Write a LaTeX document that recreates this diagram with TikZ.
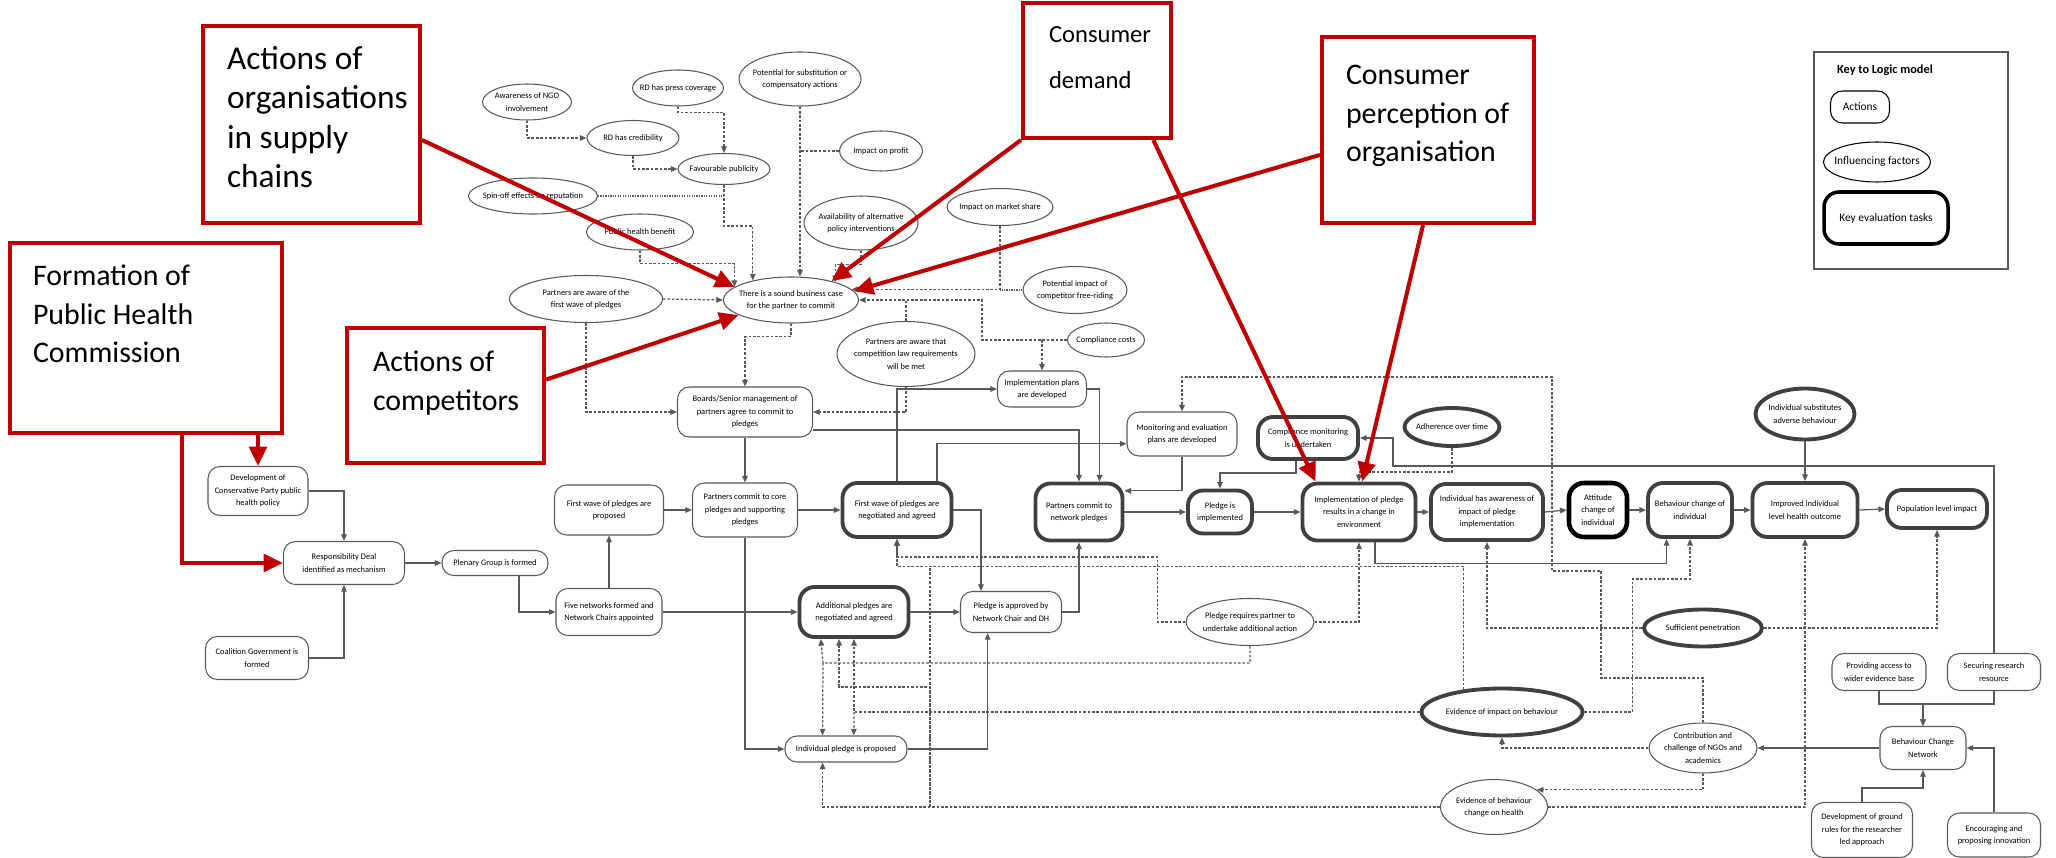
\documentclass[tikz,border=0pt]{standalone}
\usepackage{fontspec}
\setmainfont{Carlito}
\usetikzlibrary{arrows.meta, shapes.geometric}
\usepackage{xcolor}
\definecolor{edgegrey}{HTML}{595959}
\definecolor{taskgrey}{HTML}{404040}
\definecolor{callred}{HTML}{C00000}
\newcommand{\nodefont}{\fontsize{4.8}{7}\selectfont}
\newcommand{\keyfont}{\fontsize{6.5}{8}\selectfont}
\newcommand{\calltext}[3]{\parbox[c][#2][t]{#1}{\raggedright #3}}

\begin{document}
\begin{tikzpicture}[x=0.02cm, y=-0.02cm,
  wh/.style 2 args={minimum width=#1*0.02cm, minimum height=#2*0.02cm},
  action/.style={draw=edgegrey, line width=0.6pt, rounded corners=0.24cm, fill=white,
    align=center, inner sep=1pt, font=\nodefont},
  factor/.style={ellipse, draw=edgegrey, line width=0.6pt, fill=white, align=center,
    inner xsep=-0.3cm, inner ysep=-0.1cm, font=\nodefont},
  task/.style={action, draw=taskgrey, line width=2.2pt, rounded corners=0.3cm},
  taskfactor/.style={factor, draw=taskgrey, line width=2.2pt},
  link/.style={-{Triangle[length=3.8pt, width=3.2pt]}, edgegrey, line width=0.7pt},
  infl/.style={link, dash pattern=on 1.5pt off 1pt},
  faint/.style={infl, dash pattern=on 0.7pt off 0.7pt, -},
  callout/.style={draw=callred, line width=2.3pt, fill=white, inner sep=0pt,
    font=\fontsize{17}{22}\selectfont},
  callarrow/.style={-{Triangle[length=11pt, width=10pt]}, callred, line width=2.3pt}
]
  \useasboundingbox (0,0) rectangle (2056,858);

  \node[factor, wh={89}{36}] (ngo) at (527,102) {Awareness of NGO\\involvement};
  \node[factor, wh={91}{36}] (press) at (678,88) {RD has press coverage};
  \node[factor, wh={122}{54}] (subst) at (800,79) {Potential for substitution or\\compensatory actions};
  \node[factor, wh={92}{35}] (rdc) at (633,138) {RD has credibility};
  \node[factor, wh={83}{40}] (profit) at (881,151) {Impact on profit};
  \node[factor, wh={92}{31}] (pub) at (724,169) {Favourable publicity};
  \node[factor, wh={129}{36}] (spin) at (533,196) {Spin-off effects on reputation};
  \node[factor, wh={114}{54}] (avail) at (861,223) {Availability of alternative\\policy interventions};
  \node[factor, wh={107}{36}] (phb) at (640,232) {Public health benefit};
  \node[factor, wh={153}{47}] (aware) at (586,299) {Partners are aware of the\\first wave of pledges};
  \node[factor, wh={135}{46}] (bc) at (791,300) {There is a sound business case\\for the partner to commit};
  \node[factor, wh={106}{37}] (share) at (1000,207) {Impact on market share};
  \node[factor, wh={104}{47}] (ride) at (1075,290) {Potential impact of\\competitor free-riding};
  \node[factor, wh={77}{34}] (comp) at (1106,340) {Compliance costs};
  \node[factor, wh={138}{65}] (law) at (906,354) {Partners are aware that\\competition law requirements\\will be met};
  \node[factor, wh={128}{47}] (pr) at (1250,622) {Pledge requires partner to\\undertake additional action};
  \node[factor, wh={107}{55}] (ebh) at (1494,807) {Evidence of behaviour\\change on health};
  \node[factor, wh={108}{50}] (nga) at (1703,748) {Contribution and\\challenge of NGOs and\\academics};

  \node[taskfactor, wh={95}{38}] (adh) at (1452,427) {Adherence over time};
  \node[taskfactor, wh={99}{51}] (subs) at (1805,414) {Individual substitutes\\adverse behaviour};
  \node[taskfactor, wh={118}{37}] (suf) at (1703,628) {Sufficient penetration};
  \node[taskfactor, wh={161}{47}] (eib) at (1502,712) {Evidence of impact on behaviour};

  \node[action, wh={89}{36}] (impl) at (1042,389) {Implementation plans\\are developed};
  \node[action, wh={135}{50}] (boards) at (745,412) {Boards/Senior management of\\partners agree to commit to\\pledges};
  \node[action, wh={100}{49}] (dev) at (258,491) {Development of\\Conservative Party public\\health policy};
  \node[action, wh={121}{43}] (rd) at (344,563) {Responsibility Deal\\identified as mechanism};
  \node[action, wh={103}{43}] (coal) at (257,658) {Coalition Government is\\formed};
  \node[action, wh={106}{25}] (plen) at (495,563) {Plenary Group is formed};
  \node[action, wh={109}{50}] (fwp) at (609,510) {First wave of pledges are\\proposed};
  \node[action, wh={106}{47}] (five) at (609,612) {Five networks formed and\\Network Chairs appointed};
  \node[action, wh={105}{54}] (core) at (745,510) {Partners commit to core\\pledges and supporting\\pledges};
  \node[action, wh={101}{41}] (appr) at (1011,612) {Pledge is approved by\\Network Chair and DH};
  \node[action, wh={122}{26}] (ind) at (846,749) {Individual pledge is proposed};
  \node[action, wh={110}{44}] (mon) at (1182,434) {Monitoring and evaluation\\plans are developed};
  \node[action, wh={86}{43}] (bcn) at (1923,748) {Behaviour Change\\Network};
  \node[action, wh={94}{37}] (prov) at (1879,672) {Providing access to\\wider evidence base};
  \node[action, wh={93}{37}] (sec) at (1994,672) {Securing research\\resource};
  \node[action, wh={101}{55}] (rules) at (1862,830) {Development of ground\\rules for the researcher\\led approach};
  \node[action, wh={93}{44}] (enc) at (1994,835) {Encouraging and\\proposing innovation};

  \node[task, wh={109}{54}] (fwn) at (897,510) {First wave of pledges are\\negotiated and agreed};
  \node[task, wh={109}{50}] (add) at (854,612) {Additional pledges are\\negotiated and agreed};
  \node[task, wh={87}{57}] (net) at (1079,512) {Partners commit to\\network pledges};
  \node[task, wh={100}{42}] (cmon) at (1308,438) {Compliance monitoring\\is undertaken};
  \node[task, wh={64}{43}] (pimp) at (1220,512) {Pledge is\\implemented};
  \node[task, wh={113}{57}] (env) at (1359,512) {Implementation of pledge\\results in a change in\\environment};
  \node[task, wh={112}{56}] (aw) at (1487,512) {Individual has awareness of\\impact of pledge\\implementation};
  \node[task, draw=black, line width=2.6pt, wh={58}{54}] (att) at (1598,510) {Attitude\\change of\\individual};
  \node[task, wh={84}{54}] (beh) at (1690,510) {Behaviour change of\\individual};
  \node[task, wh={105}{54}] (imp) at (1805,510) {Improved individual\\level health outcome};
  \node[task, wh={100}{38}] (pop) at (1937,509) {Population level impact};

  \draw[infl] (ngo.south) |- (rdc.west);
  \draw[infl] (rdc.south) |- (pub.west);
  \draw[infl] (press.south) -- ++(0,6) -| (pub.north);
  \draw[infl] (pub.south) -- ++(0,41) -| (bc.153);
  \draw[faint] (spin.east) -- (spin.east -| pub.south);
  \draw[infl] (phb.south) -- ++(0,13) -| (bc.167);
  \draw[infl] (subst.south) -- (bc.north -| subst.south);
  \draw[infl, -] (profit.west) -- (profit.west -| subst.south);
  \draw[infl] (avail.south) -- ++(0,14) -| (bc.22);
  \draw[infl] (aware.east) -- (bc.west);
  \draw[infl] (share.south) |- (bc.10);
  \draw[faint] (ride.west) -- (ride.west -| share.south);
  \draw[infl] (comp.west) -- ++(-85,0) |- (bc.east);
  \draw[infl] (impl.north |- comp.west) -- (impl.north);
  \draw[infl, -] (law.north) -- (law.north |- bc.east);
  \draw[infl] (law.south) |- (boards.east);
  \draw[infl] (bc.south) -- ++(0,13) -| (boards.north);
  \draw[infl] (aware.south) |- (boards.west);

  \draw[link] (dev.east) -| (rd.north);
  \draw[link] (coal.east) -| (rd.south);
  \draw[link] (rd.east) -- (plen.west);
  \draw[link] (plen.south) ++(24,0) |- (five.west);
  \draw[link] (five.north) -- (fwp.south);
  \draw[link] (fwp.east) -- (core.west);
  \draw[link] (boards.south) -- (core.north);
  \draw[link] (core.east) -- (fwn.west);
  \draw[link] (five.east) -- (add.west);
  \draw[link] (core.south) |- (ind.west);
  \draw[link] (fwn.north) |- (impl.west);
  \draw[link] (boards.east) ++(0,18) -| (net.north);
  \draw[link] (fwn.north) ++(40,0) |- (mon.190);
  \draw[link] (impl.east) -| (net.56);
  \draw[link] (fwn.east) -| (appr.145);
  \draw[link] (add.east) -- (appr.west);
  \draw[link] (ind.east) -| (appr.-138);
  \draw[link] (appr.east) -| (net.south);
  \draw[link] (mon.south) |- (net.25);
  \draw[link] (net.east) -- (pimp.west);
  \draw[link] (cmon.south) ++(-12,0) -- ++(0,12) -| (pimp.north);
  \draw[link] (pimp.east) -- (env.west);
  \draw[link] (env.east) -- (aw.west);
  \draw[link] (aw.east) -- (att.west);
  \draw[link] (att.east) -- (beh.west);
  \draw[link] (beh.east) -- (imp.west);
  \draw[link] (imp.east) -- (pop.west);
  \draw[link] (subs.south) -- (imp.north);
  \draw[link] (sec.north) |- (1393,466) |- (cmon.east);
  \draw[link] (env.south) ++(16,0) -- ++(0,21) -| (beh.-129);
  \draw[link] (prov.south) -- ++(0,13) -| (bcn.north);
  \draw[link] (sec.south) -- ++(0,13) -| (bcn.north);
  \draw[link] (rules.north) -- ++(0,-14) -| (bcn.south);
  \draw[link] (enc.north) |- (bcn.east);
  \draw[link] (bcn.west) -- (nga.east);

  \coordinate (prsplit) at (823,663);
  \coordinate (eibsplit) at (930,568);
  \coordinate (ebhsplit) at (930,807);
  \draw[infl] (adh.south) -- ++(0,24) -| (env.north);
  \draw[infl] (pr.west) -| ++(-28,-65) -| (fwn.south);
  \draw[infl] (pr.east) -| (env.south);
  \draw[infl] (pr.south) |- (prsplit) -- (add.-141);
  \draw[infl] (prsplit) -- (ind.150);
  \draw[infl] (eib.150) -- ++(0,-123) -| (fwn.south);
  \draw[infl] (ebh.west) -| (ind.-150);
  \draw[infl, -] (eibsplit) -- (ebhsplit);
  \draw[infl] (ebhsplit) -- ++(0,-120) -| (add.-119);
  \draw[infl] (eib.west) -| (add.south);
  \draw[infl] (add.south |- eib.west) -- (ind.60);
  \draw[infl] (nga.north) |- (1601,678) |- (1552,571) -- (1552,377) -| (mon.north);
  \draw[infl] (nga.west) -| (eib.south);
  \draw[infl] (nga.south) |- (ebh.22);
  \draw[infl] (ebh.east) -| (imp.south);
  \draw[infl] (eib.east) -| ++(48,-133) -| (beh.south);
  \draw[infl] (suf.west) -| (aw.south);
  \draw[infl] (suf.east) -| (pop.south);

  \node[draw=edgegrey, line width=0.6pt, wh={194}{217}] (keybox) at (1911,160.5) {};
  \node[anchor=west, font=\fontsize{7}{8}\selectfont\bfseries] (keytitle) at (1831,70) {Key to Logic model};
  \node[action, draw=black, font=\keyfont, wh={59}{32}] (keyact) at (1860,107) {Actions};
  \node[factor, draw=black, font=\keyfont, wh={107}{40}] (keyfac) at (1877,162) {Influencing factors};
  \node[action, draw=black, line width=2pt, rounded corners=0.3cm, font=\keyfont, wh={124}{52}] (keytask) at (1886,218) {Key evaluation tasks};

  \node[callout, font=\fontsize{19}{22.5}\selectfont, wh={217}{197}] (supply) at (311.5,124.5) {\calltext{3.38cm}{3.14cm}{Actions of\\organisations\\in supply\\chains}};
  \node[callout, wh={272}{190}] (phc) at (146,338) {\calltext{4.52cm}{2.92cm}{Formation of\\Public Health\\Commission}};
  \node[callout, wh={197}{135}] (compet) at (445.5,395.5) {\calltext{2.9cm}{1.78cm}{Actions of\\competitors}};
  \node[callout, font=\fontsize{14}{26}\selectfont, wh={148}{135}] (demand) at (1097,70.5) {\calltext{1.92cm}{1.74cm}{Consumer\\demand}};
  \node[callout, wh={212}{186}] (percep) at (1428,130) {\calltext{3.28cm}{2.6cm}{Consumer\\perception of\\organisation}};

  \draw[callarrow] (supply.-8) -- (bc.167);
  \draw[callarrow] (compet.9) -- (bc.-164);
  \draw[callarrow] (demand.south west) -- (bc.25);
  \draw[callarrow] (percep.-167) -- (bc.8);
  \draw[callarrow] (demand.-51) -- (env.145);
  \draw[callarrow] (percep.-93) -- (env.84);
  \draw[callarrow] (dev.north |- phc.south) -- (dev.north);
  \draw[callarrow] (phc.south) ++(36,0) |- (rd.west);
\end{tikzpicture}
\end{document}
